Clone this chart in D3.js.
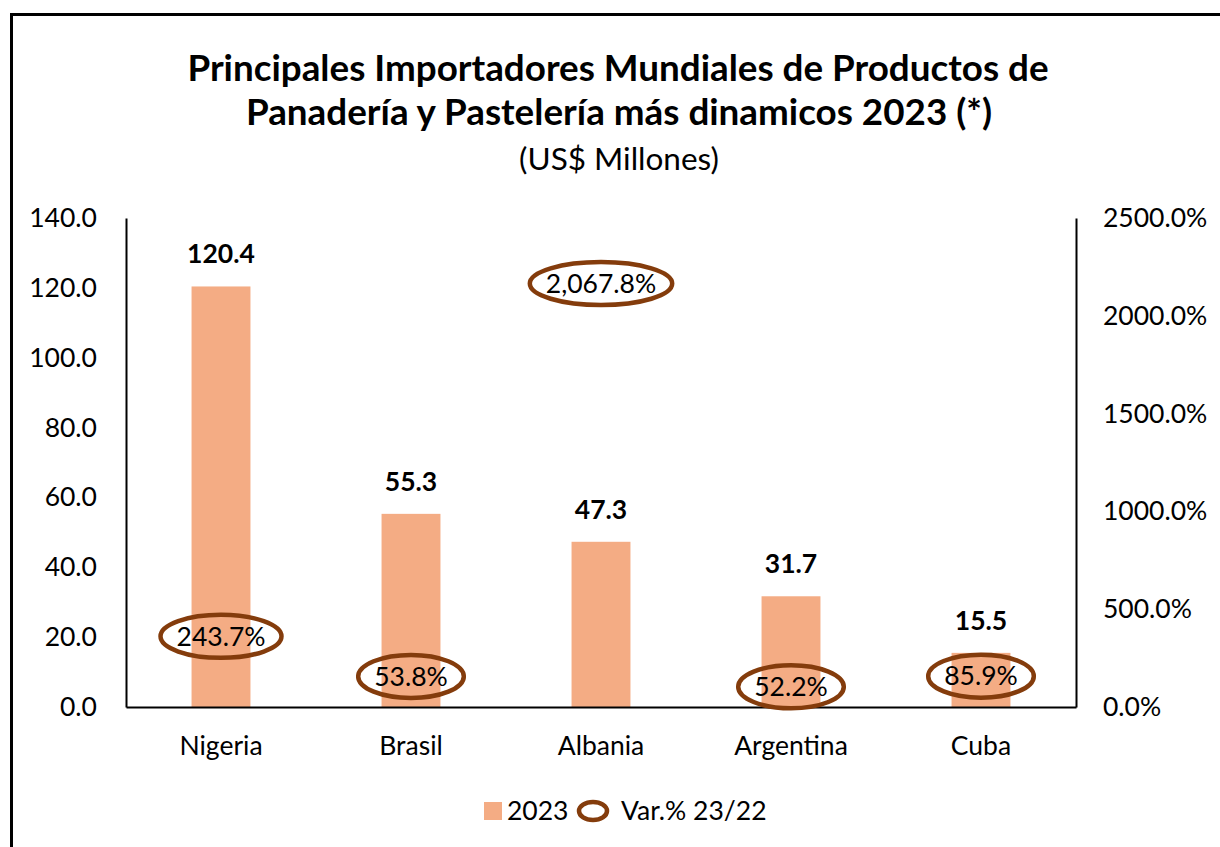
<!DOCTYPE html>
<html>
<head>
<meta charset="utf-8">
<script src="https://cdn.jsdelivr.net/npm/d3@7"></script>
<style>
  body { margin: 0; background: #fff; }
  svg { display: block; font-family: Lato, "Open Sans", sans-serif; }
</style>
</head>
<body>
<div id="chart"></div>
<script>
"use strict";

// data
const countries = ["Nigeria", "Brasil", "Albania", "Argentina", "Cuba"];
const values2023 = [120.4, 55.3, 47.3, 31.7, 15.5];
const variation = [243.7, 53.8, 2067.8, 52.2, 85.9];
const leftTicks = [0, 20, 40, 60, 80, 100, 120, 140];
const rightTicks = [0, 500, 1000, 1500, 2000, 2500];
// small vertical nudges of the variation labels (px), as placed in the original
const varLabelNudge = [-23, -20, -19, -10, -14];

const W = 1220, H = 847;
const margin = { top: 218, right: 144, bottom: 140, left: 126 };
const width = W - margin.left - margin.right;
const height = H - margin.top - margin.bottom;

const barColor = "#F4AC84";
const ringColor = "#843C0C";
const fs = 26.5;

const svg = d3.select("#chart")
    .append("svg")
    .attr("width", W)
    .attr("height", H);

// outer frame (runs off the right and bottom edges)
svg.append("rect")
    .attr("x", 11.5)
    .attr("y", 14.5)
    .attr("width", W + 20)
    .attr("height", H + 20)
    .attr("fill", "none")
    .attr("stroke", "#000")
    .attr("stroke-width", 3);

// titles
svg.append("text")
    .attr("x", 618).attr("y", 81)
    .attr("text-anchor", "middle")
    .attr("font-weight", "bold")
    .attr("font-size", 36.8)
    .text("Principales Importadores Mundiales de Productos de");
svg.append("text")
    .attr("x", 619).attr("y", 125)
    .attr("text-anchor", "middle")
    .attr("font-weight", "bold")
    .attr("font-size", 36.8)
    .text("Panadería y Pastelería más dinamicos 2023 (*)");
svg.append("text")
    .attr("x", 619).attr("y", 170)
    .attr("text-anchor", "middle")
    .attr("font-size", 31.5)
    .text("(US$ Millones)");

const g = svg.append("g")
    .attr("transform", "translate(" + margin.left + "," + margin.top + ")");

const x = d3.scaleBand()
    .domain(countries)
    .range([0, width])
    .paddingInner(0.69)
    .paddingOuter(0.345);

const xc = d3.scaleBand().domain(countries).range([0, width]);

const yL = d3.scaleLinear().domain([0, 140]).range([height, 0]);
const yR = d3.scaleLinear().domain([0, 2500]).range([height, 0]);

// bars
g.selectAll(".bar")
    .data(countries)
    .enter().append("rect")
    .attr("class", "bar")
    .attr("x", d => x(d))
    .attr("width", x.bandwidth())
    .attr("y", (d, i) => yL(values2023[i]))
    .attr("height", (d, i) => height - yL(values2023[i]))
    .attr("fill", barColor);

// bar value labels
g.selectAll(".vlabel")
    .data(countries)
    .enter().append("text")
    .attr("class", "vlabel")
    .attr("x", d => xc(d) + xc.bandwidth() / 2)
    .attr("y", (d, i) => yL(values2023[i]) - 23)
    .attr("text-anchor", "middle")
    .attr("font-weight", "bold")
    .attr("font-size", fs)
    .text((d, i) => d3.format(".1f")(values2023[i]));

// axes
const leftAxis = g.append("g")
    .call(d3.axisLeft(yL).tickValues(leftTicks).tickFormat(d3.format(".1f")).tickSize(0).tickPadding(29));
leftAxis.select(".domain").attr("stroke", "#000").attr("stroke-width", 2);
leftAxis.selectAll("text").attr("font-size", fs).attr("font-family", "Lato, sans-serif").attr("fill", "#000");

const rightAxis = g.append("g")
    .attr("transform", "translate(" + width + ",0)")
    .call(d3.axisRight(yR).tickValues(rightTicks).tickFormat(d => d3.format(".1f")(d) + "%").tickSize(0).tickPadding(27));
rightAxis.select(".domain").attr("stroke", "#000").attr("stroke-width", 2);
rightAxis.selectAll("text").attr("font-size", fs).attr("font-family", "Lato, sans-serif").attr("fill", "#000");

const bottomAxis = g.append("g")
    .attr("transform", "translate(0," + height + ")")
    .call(d3.axisBottom(xc).tickSize(0).tickPadding(29));
bottomAxis.select(".domain").attr("stroke", "#000").attr("stroke-width", 2);
bottomAxis.selectAll("text").attr("font-size", fs).attr("font-family", "Lato, sans-serif").attr("fill", "#000");

// variation labels in rings
const varFmt = d3.format(",.1f");
const vg = g.selectAll(".var")
    .data(countries)
    .enter().append("g")
    .attr("class", "var")
    .attr("transform", (d, i) => "translate(" + (xc(d) + xc.bandwidth() / 2) + "," + (yR(variation[i]) + varLabelNudge[i]) + ")");

vg.append("text")
    .attr("text-anchor", "middle")
    .attr("dy", "0.35em")
    .attr("font-size", fs)
    .text((d, i) => varFmt(variation[i]) + "%");

vg.each(function () {
    const t = d3.select(this).select("text").node().getBBox();
    d3.select(this).insert("ellipse", "text")
        .attr("cx", 0)
        .attr("cy", 0)
        .attr("rx", t.width / 2 + 16)
        .attr("ry", 21.5)
        .attr("fill", "none")
        .attr("stroke", ringColor)
        .attr("stroke-width", 4.5);
});

// legend
const lg = svg.append("g").attr("transform", "translate(484,811)");
lg.append("rect")
    .attr("x", 0).attr("y", -9)
    .attr("width", 18).attr("height", 18)
    .attr("fill", barColor);
lg.append("text")
    .attr("x", 23).attr("y", 0).attr("dy", "0.35em")
    .attr("font-size", fs)
    .text("2023");
lg.append("ellipse")
    .attr("cx", 109).attr("cy", 0)
    .attr("rx", 14).attr("ry", 9)
    .attr("fill", "none")
    .attr("stroke", ringColor)
    .attr("stroke-width", 4.5);
lg.append("text")
    .attr("x", 137).attr("y", 0).attr("dy", "0.35em")
    .attr("font-size", fs)
    .text("Var.% 23/22");
</script>
</body>
</html>
